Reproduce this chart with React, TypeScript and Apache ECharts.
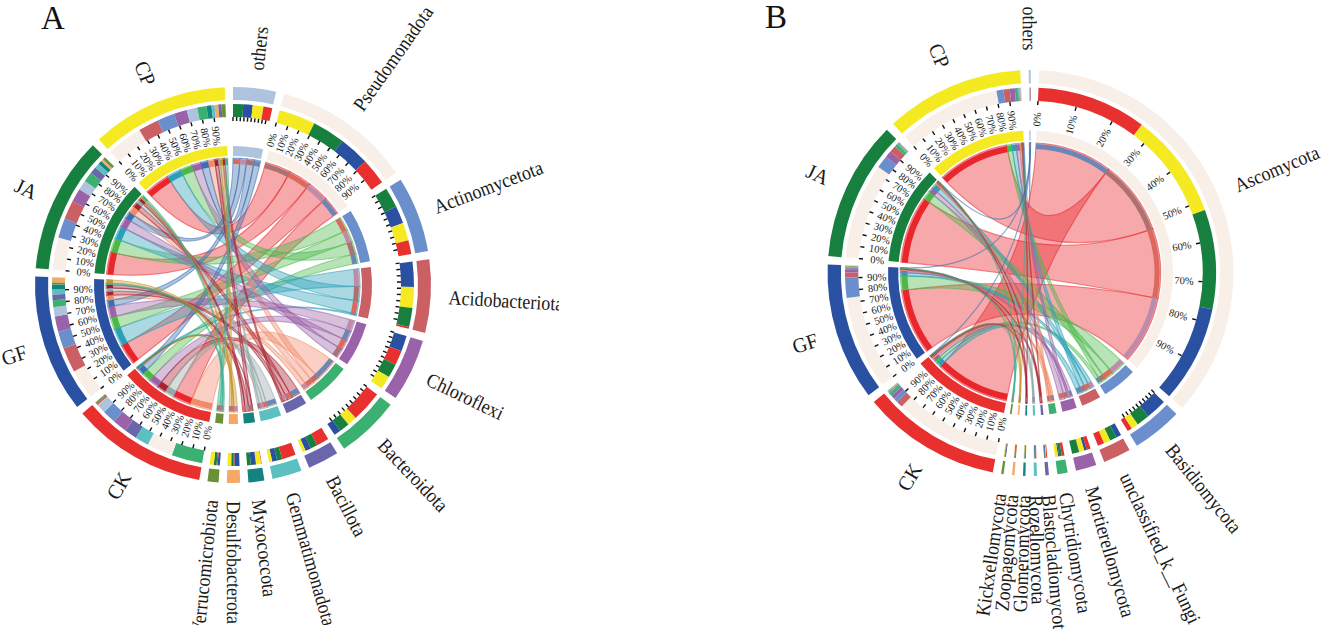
import React, { useEffect, useRef } from "react";
import * as echarts from "echarts";

// ---------- data ----------
const sampleNames = ["CK", "GF", "JA", "CP"];
const sampleColors = ["#e8302f", "#2a51a1", "#17803e", "#f5ea22"];
const sampleStripeColors = ["#6c86b6", "#c08bab", "#dc6a5c", "#ab7270"];
const percentTicks = ["0%", "10%", "20%", "30%", "40%", "50%", "60%", "70%", "80%", "90%"];

const rankColors = ["#aec4de", "#f8efe8", "#6b8fcc", "#cb6064", "#9a62a8", "#3cb070", "#6a66ac", "#5cc0c0", "#14837f", "#f5a868", "#6b9138"];
const linkColors = ["#3d6fb0", "#e8262c", "#4cb84a", "#2a9fb8", "#9a62a8", "#f08a68", "#a8232f", "#94a8a8", "#a01c30", "#c8962c", "#3cb090"];

const speciesA = ["others", "Pseudomonadota", "Actinomycetota", "Acidobacteriota", "Chloroflexi", "Bacteroidota", "Bacillota", "Gemmatimonadota", "Myxococcota", "Desulfobacterota", "Verrucomicrobiota"];
const ckA = [7, 21, 11, 1.5, 11.5, 25, 10, 11, 0.5, 0.5, 0.8];
const gfA = [7.5, 24, 14, 20, 12.5, 5.5, 4.5, 4, 4, 4, 1.8];
const jaA = [8, 26, 16, 15, 11, 8, 5.5, 4, 3, 2, 2.2];
const cpA = [8.5, 29, 14, 16.5, 10.5, 7.5, 2.5, 2.5, 4, 3, 3.2];
const speciesOrderA = [[2, 1, 3, 0], [3, 2, 1, 0], [2, 1, 3, 0], [1, 3, 2, 0], [1, 0, 2, 3], [0, 3, 2, 1], [0, 2, 1, 3], [0, 2, 1, 3], [0, 3, 1, 2], [1, 0, 2, 3], [1, 0, 2, 3]];
const sampleOrderA = [[5, 1, 7, 6, 4, 2, 0, 9, 3, 8, 10], [1, 3, 2, 4, 0, 5, 6, 7, 8, 10, 9], [1, 2, 3, 4, 0, 5, 6, 7, 8, 9, 10], [1, 3, 2, 4, 0, 5, 8, 7, 9, 6, 10]];
const tickedA = [0, 1, 2, 3, 4, 5];
const labelledA = [1];

const speciesB = ["others", "Ascomycota", "Basidiomycota", "unclassified_k__Fungi", "Mortierellomycota", "Chytridiomycota", "Blastocladiomycota", "Rozellomycota", "Glomeromycota", "Zoopagomycota", "Kickxellomycota"];
const ckB = [0.2, 84, 3.5, 5, 3, 2, 0.8, 0.6, 0.6, 0.6, 0.3];
const gfB = [0.3, 74, 16, 4, 2, 1, 0.6, 0.4, 0.3, 0.4, 0.6];
const jaB = [0.2, 76, 10, 5.3, 5.5, 2, 0.5, 0.7, 0.4, 0.35, 0.4];
const cpB = [0.7, 81, 5.5, 5, 4, 2.2, 0.5, 0.4, 0.4, 0.35, 0.4];
const speciesOrderB = [[3, 2, 1, 0], [0, 3, 2, 1], [1, 2, 3, 0], [1, 2, 3, 0], [0, 1, 3, 2], [0, 2, 1, 3], [0, 3, 1, 2], [0, 2, 1, 3], [0, 2, 1, 3], [0, 2, 1, 3], [1, 0, 2, 3]];
const sampleOrderB = [[1, 3, 2, 4, 5, 6, 7, 8, 9, 10, 0], [1, 2, 3, 4, 5, 6, 7, 8, 9, 10, 0], [1, 2, 4, 3, 5, 6, 7, 8, 9, 10, 0], [1, 2, 3, 4, 5, 6, 7, 8, 9, 10, 0]];
const tickedB = [1, 2];
const labelledB = [1];

// ---------- drawing ----------
const SERIF = "'Liberation Serif', 'Times New Roman', serif";
const RAD = Math.PI / 180;

function buildPanel(cfg: any) {
  const { cx, cy, s, start, gap, kS, species, columns, speciesOrder, sampleOrder, ticked, labelled, labelR, nameSize, sampleSize, tickSize, clips } = cfg;
  const children: any[] = [];
  const px = (th: number, r: number) => [cx + r * s * Math.sin(th * RAD), cy - r * s * Math.cos(th * RAD)];
  const band = (a0: number, a1: number, r0: number, r1: number, fill: string) =>
    children.push({
      type: "sector",
      shape: { cx, cy, r0: r0 * s, r: r1 * s, startAngle: (a0 - 90) * RAD, endAngle: (a1 - 90) * RAD, clockwise: true },
      style: { fill },
    });
  const radial = (th: number, r: number, text: string, size: number, mode: string, tall: number) => {
    const right = ((th % 360) + 360) % 360 < 180;
    const [x, y] = px(th, r);
    children.push({
      type: "text",
      x,
      y,
      scaleY: tall,
      rotation: ((right ? 90 - th : 270 - th) * Math.PI) / 180,
      style: {
        text,
        fontSize: size,
        fontFamily: SERIF,
        fill: "#1a1a1a",
        align: mode === "center" ? "center" : right ? "left" : "right",
        verticalAlign: "middle",
      },
    });
  };

  const n = species.length;
  const rowSum = species.map((_: string, i: number) => columns.reduce((a: number, c: number[]) => a + c[i], 0));
  const total = rowSum.reduce((a: number, b: number) => a + b, 0);
  const kC = (360 - gap * (n + columns.length) - kS * total) / total;

  let th = start;
  const sp: any[] = [];
  for (let i = 0; i < n; i++) {
    const a0 = th;
    const pos: any = {};
    for (const j of speciesOrder[i]) {
      pos[j] = [th, th + columns[j][i] * kS];
      th += columns[j][i] * kS;
    }
    sp.push({ a0, a1: th, pos });
    th += gap;
  }
  const sa: any[] = [];
  for (let j = 0; j < columns.length; j++) {
    const a0 = th;
    const pos: any = {};
    for (const i of sampleOrder[j]) {
      pos[i] = [th, th + columns[j][i] * kC];
      th += columns[j][i] * kC;
    }
    sa.push({ a0, a1: th, pos });
    th += gap;
  }

  // ribbons, large species first
  const RL = 127;
  const drawOrder = species.map((_: string, i: number) => i).sort((a: number, b: number) => rowSum[b] - rowSum[a]);
  for (const i of drawOrder) {
    for (let j = 0; j < columns.length; j++) {
      const [a0, a1] = sa[j].pos[i];
      const [b0, b1] = sp[i].pos[j];
      const R = RL * s;
      const p = (t: number) => px(t, RL).map((v) => v.toFixed(2)).join(" ");
      const arc = (x: number, y: number) => `A ${R} ${R} 0 ${y - x > 180 ? 1 : 0} 1`;
      const d = `M ${p(a0)} ${arc(a0, a1)} ${p(a1)} Q ${cx} ${cy} ${p(b0)} ${arc(b0, b1)} ${p(b1)} Q ${cx} ${cy} ${p(a0)} Z`;
      children.push({
        type: "path",
        shape: { pathData: d },
        style: { fill: linkColors[i], opacity: 0.4, stroke: "none" },
      });
      children.push({
        type: "path",
        shape: { pathData: d },
        style: { fill: "none", stroke: linkColors[i], opacity: 0.55, lineWidth: 1.1 },
      });
    }
  }

  const tick = (a: number) => {
    const [x1, y1] = px(a, 168);
    const [x2, y2] = px(a, 164);
    children.push({ type: "line", shape: { x1, y1, x2, y2 }, style: { stroke: "#111", lineWidth: 1.4 } });
  };

  // species sectors
  for (let i = 0; i < n; i++) {
    const c = rankColors[i];
    const S = sp[i];
    band(S.a0, S.a1, 185, 198, c);
    band(S.a0, S.a1, 129, 139, c);
    for (const j of speciesOrder[i]) {
      const [x0, x1] = S.pos[j];
      band(x0, x1, 168, 181, sampleColors[j]);
      band(x0, x1, 121, 126, sampleStripeColors[j]);
    }
    const mid = (S.a0 + S.a1) / 2;
    radial(mid, labelR, species[i], nameSize, "outer", 1.12);
    if (ticked.includes(i)) {
      percentTicks.forEach((t, q) => {
        const a = S.a0 + ((S.a1 - S.a0) * q) / 10;
        tick(a);
        if (labelled.includes(i)) radial(a, 150, t, tickSize, "center", 1);
      });
    }
  }

  // sample sectors
  for (let j = 0; j < columns.length; j++) {
    const c = sampleColors[j];
    const S = sa[j];
    band(S.a0, S.a1, 185, 198, c);
    band(S.a0, S.a1, 129, 139, c);
    for (const i of sampleOrder[j]) {
      const [x0, x1] = S.pos[i];
      band(x0, x1, 168, 181, rankColors[i]);
      band(x0, x1, 120, 126, linkColors[i]);
    }
    const samplePos = px((S.a0 + S.a1) / 2, labelR + 1);
    radial((S.a0 + S.a1) / 2, labelR + 1, sampleNames[j], sampleSize, samplePos[0] < 0 ? "center" : "outer", 1.05);
    percentTicks.forEach((t, q) => {
      const a = S.a0 + ((S.a1 - S.a0) * q) / 10;
      tick(a);
      radial(a, 150, t, tickSize, "center", 1);
    });
  }

  // the reference picture is cropped around the panels
  for (const r of clips) {
    children.push({ type: "rect", shape: r, style: { fill: "#ffffff" } });
  }
  children.push({
    type: "text",
    x: cfg.letterX,
    y: cfg.letterY,
    style: { text: cfg.letter, fontSize: 33, fontFamily: SERIF, fill: "#111", align: "left", verticalAlign: "middle" },
  });
  return children;
}

const panelA = {
  letter: "A", letterX: 41, letterY: 18,
  cx: 233, cy: 285, s: 1, start: 0, gap: 2.4, kS: 0.405,
  species: speciesA, columns: [ckA, gfA, jaA, cpA], speciesOrder: speciesOrderA, sampleOrder: sampleOrderA,
  ticked: tickedA, labelled: labelledA, labelR: 216, nameSize: 18, sampleSize: 20, tickSize: 10.5,
  clips: [{ x: 559, y: 0, width: 190, height: 636 }, { x: 0, y: 625, width: 700, height: 11 }],
};
const panelB = {
  letter: "B", letterX: 765, letterY: 17,
  cx: 1030.5, cy: 273, s: 1.025, start: -0.5, gap: 2.4, kS: 0.41,
  species: speciesB, columns: [ckB, gfB, jaB, cpB], speciesOrder: speciesOrderB, sampleOrder: sampleOrderB,
  ticked: tickedB, labelled: labelledB, labelR: 217, nameSize: 18, sampleSize: 20, tickSize: 10.5,
  clips: [{ x: 900, y: 629, width: 400, height: 7 }],
};

export default function App() {
  const ref = useRef<HTMLDivElement>(null);
  useEffect(() => {
    const chart = echarts.init(ref.current!, null, { renderer: "svg" });
    const series = [panelA, panelB].map((p, i) => ({
      type: "custom",
      name: p.letter,
      coordinateSystem: "none",
      silent: true,
      z: i + 2,
      data: [[i]],
      renderItem: () => ({ type: "group", children: buildPanel(p) }),
    }));
    chart.setOption({ animation: false, backgroundColor: "#ffffff", series } as any);
    return () => chart.dispose();
  }, []);
  return <div ref={ref} style={{ position: "fixed", left: 0, top: 0, width: 1325, height: 636 }} />;
}
